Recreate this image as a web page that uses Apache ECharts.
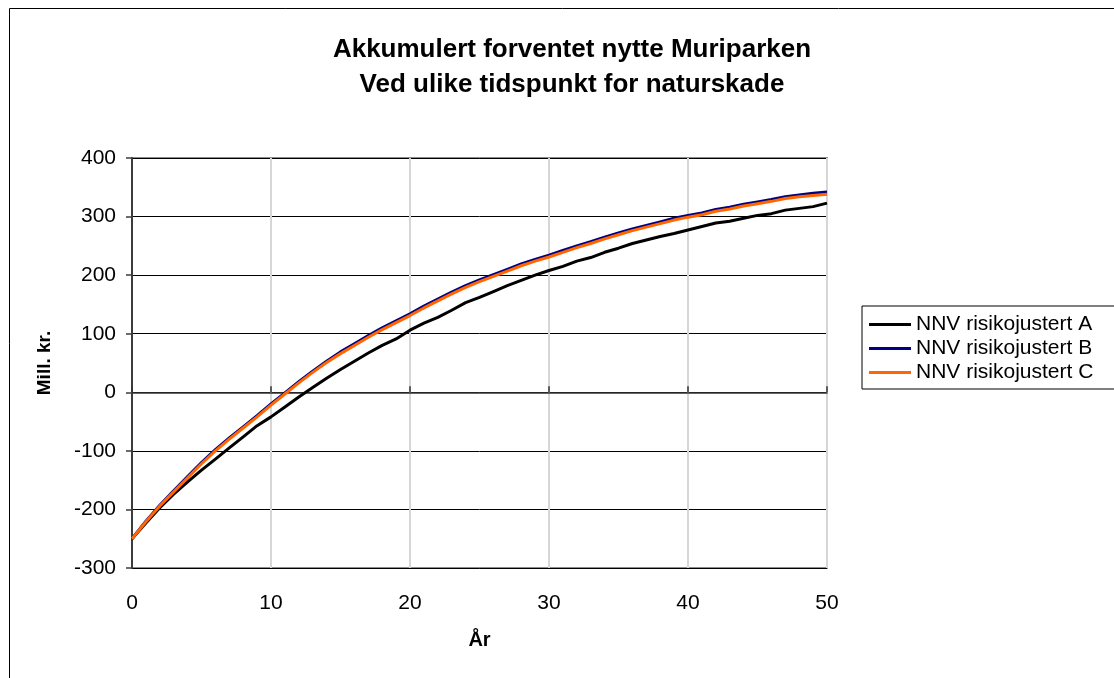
<!DOCTYPE html>
<html>
<head>
<meta charset="utf-8">
<script src="https://cdn.jsdelivr.net/npm/echarts@6/dist/echarts.min.js"></script>
<style>
html,body{margin:0;padding:0;background:#fff;}
#chart{width:1114px;height:678px;}
</style>
</head>
<body>
<div id="chart"></div>
<script>
const titleLines = ['Akkumulert forventet nytte Muriparken', 'Ved ulike tidspunkt for naturskade'];
const xName = 'År';
const yName = 'Mill. kr.';
const seriesNames = ['NNV risikojustert A', 'NNV risikojustert B', 'NNV risikojustert C'];
const years = [0,1,2,3,4,5,6,7,8,9,10,11,12,13,14,15,16,17,18,19,20,21,22,23,24,25,26,27,28,29,30,31,32,33,34,35,36,37,38,39,40,41,42,43,44,45,46,47,48,49,50];
const valuesA = [-250,-223,-197,-174,-153,-133,-114,-95,-76,-57,-42,-25,-8,8,24,39,53,67,80,91,106,118,128,140,153,162,172,182,191,200,208,215,224,230,239,246,254,260,266,271,277,283,289,292,297,302,305,311,314,317,323];
const valuesB = [-250,-220,-193,-168,-144,-120,-98,-78,-59,-40,-20,-1,18,36,53,69,83,97,110,122,134,147,159,171,182,192,201,210,219,227,234,242,250,257,265,272,279,285,291,297,302,306,312,316,321,325,329,334,337,340,342];
const valuesC = [-250,-221,-194,-170,-146,-122,-100,-80,-61,-42,-22,-3,16,34,51,66,80,94,107,119,131,144,156,168,179,189,198,207,216,224,231,239,247,254,262,269,276,282,288,294,299,303,309,313,318,322,326,331,334,336,338];
const colors = ['#000000', '#000080', '#FF6600'];

const FONT = '"Liberation Sans", Arial, sans-serif';
const pairs = vals => years.map((y, i) => [y, vals[i]]);

const chart = echarts.init(document.getElementById('chart'), null, {renderer: 'canvas'});
chart.setOption({
  animation: false,
  backgroundColor: '#ffffff',
  graphic: [{
    type: 'rect', left: 7, top: 6, z: -10, silent: true,
    shape: {width: 1200, height: 800},
    style: {fill: 'none', stroke: '#000', lineWidth: 1}
  }],
  title: {
    text: titleLines.join('\n'),
    left: 567, top: 27, textAlign: 'center',
    textStyle: {fontFamily: FONT, fontWeight: 'bold', fontSize: 26, lineHeight: 35, color: '#000'}
  },
  legend: {
    orient: 'vertical', left: 862, top: 306,
    data: seriesNames,
    icon: 'rect', itemWidth: 42, itemHeight: 3, itemGap: 3,
    padding: [8, 60, 6, 7],
    borderColor: '#000', borderWidth: 1, backgroundColor: '#fff',
    textStyle: {fontFamily: FONT, fontSize: 21, lineHeight: 20, color: '#000'}
  },
  grid: {
    left: 132, right: 287, top: 158, bottom: 110,
    show: true, borderColor: '#8c8c8c', borderWidth: 2, backgroundColor: 'transparent'
  },
  xAxis: [{
    type: 'value', min: 0, max: 50, interval: 10, position: 'bottom',
    name: xName, nameLocation: 'middle', nameGap: 62,
    nameTextStyle: {fontFamily: FONT, fontWeight: 'bold', fontSize: 20, color: '#000'},
    axisLine: {show: false, onZero: false},
    axisTick: {show: false},
    axisLabel: {margin: 25, fontFamily: FONT, fontSize: 21, color: '#000'},
    splitLine: {show: true, lineStyle: {color: '#d6d6d6', width: 2}}
  }, {
    type: 'value', min: 0, max: 50, interval: 10, position: 'bottom',
    axisLine: {show: true, onZero: true, lineStyle: {color: '#333', width: 1.5}},
    axisTick: {show: true, inside: true, length: 6, lineStyle: {color: '#333', width: 1.5}},
    axisLabel: {show: false},
    splitLine: {show: false}
  }],
  yAxis: {
    type: 'value', min: -300, max: 400, interval: 100,
    name: yName, nameLocation: 'middle', nameGap: 78, nameRotate: 90,
    nameTextStyle: {fontFamily: FONT, fontWeight: 'bold', fontSize: 19, color: '#000'},
    axisLine: {show: true, lineStyle: {color: '#3c3c3c', width: 2}},
    axisTick: {show: true, length: 6, lineStyle: {color: '#3c3c3c', width: 1.5}},
    axisLabel: {margin: 16, fontFamily: FONT, fontSize: 21, color: '#000'},
    splitLine: {show: true, lineStyle: {color: '#000', width: 1}}
  },
  series: [valuesA, valuesB, valuesC].map((vals, i) => ({
    name: seriesNames[i], type: 'line', xAxisIndex: 0,
    data: pairs(vals), showSymbol: false, symbol: 'none',
    lineStyle: {color: colors[i], width: 3}, itemStyle: {color: colors[i]},
    z: 2 + i
  }))
});
</script>
</body>
</html>
